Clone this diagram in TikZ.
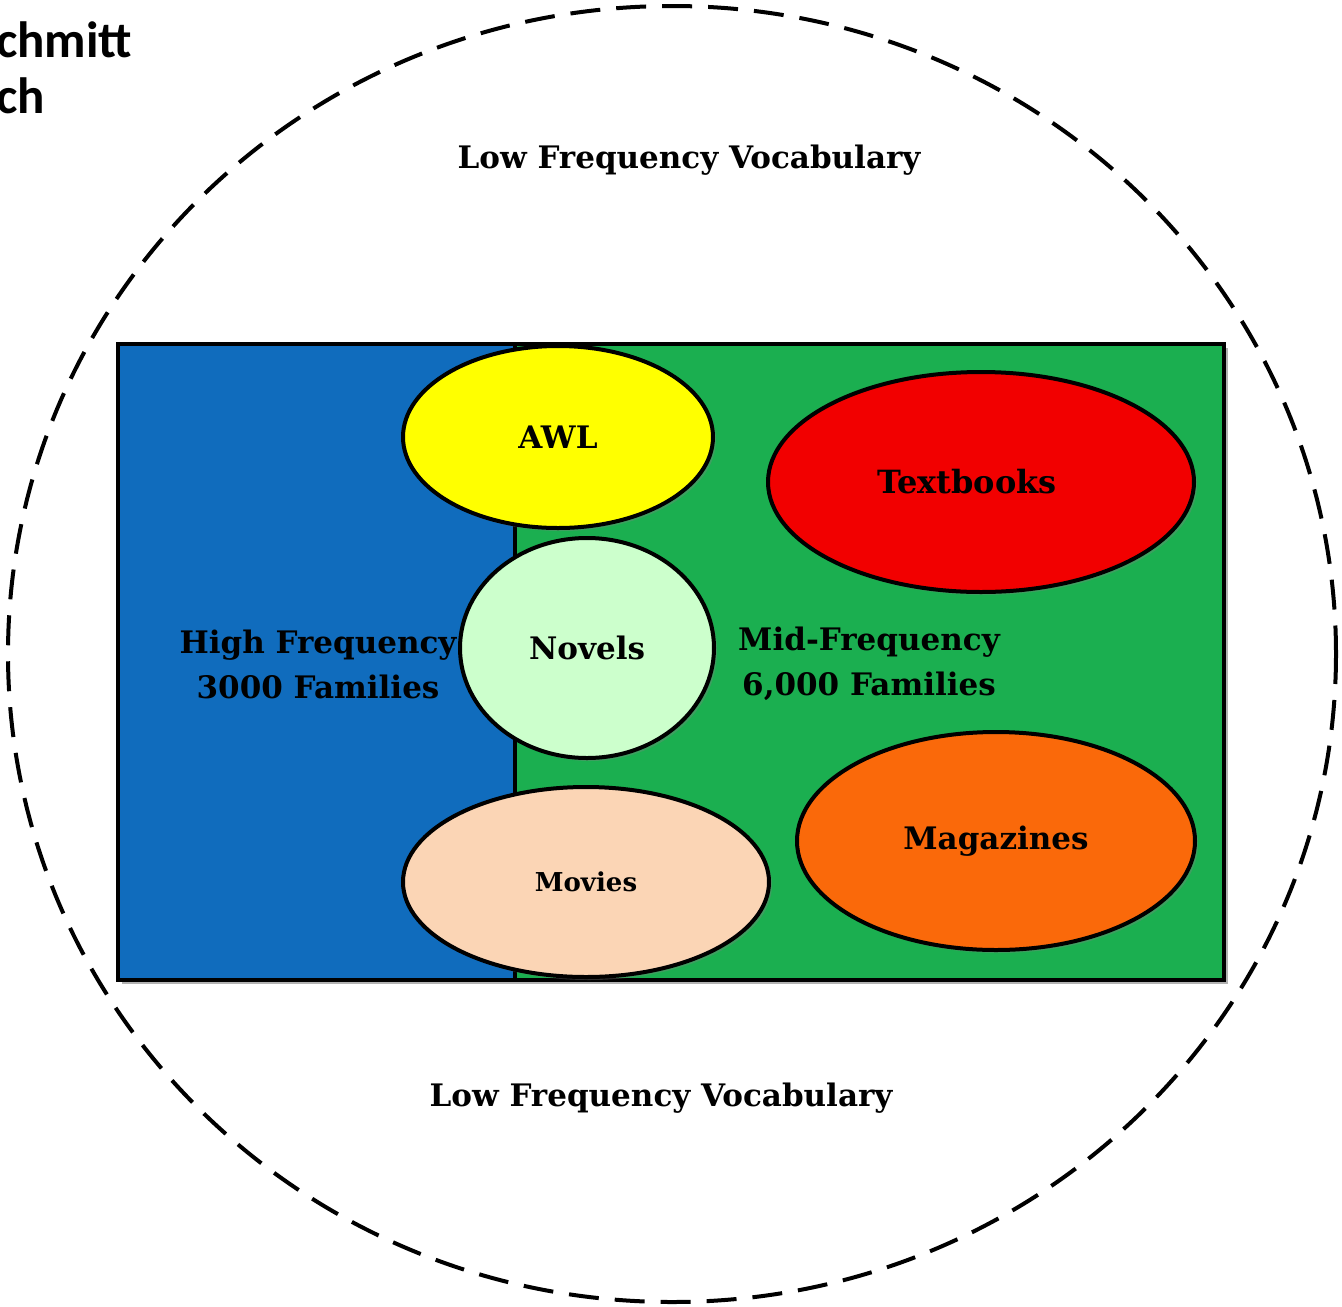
\documentclass[tikz,border=0pt]{standalone}
\usepackage{fontspec}
\newfontfamily\calib{Carlito}
\newfontfamily\lblserif{DejaVu Serif}
\usetikzlibrary{shapes.geometric,shadows}
\definecolor{hfblue}{RGB}{16,108,189}
\definecolor{mfgreen}{RGB}{27,175,80}
\definecolor{awlyellow}{RGB}{255,255,0}
\definecolor{tbred}{RGB}{242,0,0}
\definecolor{novgreen}{RGB}{204,255,204}
\definecolor{movpeach}{RGB}{251,213,181}
\definecolor{magorange}{RGB}{250,105,10}
\tikzset{
  blob/.style={ellipse, draw=black, line width=4pt, inner sep=0pt,
    drop shadow={opacity=0.35, shadow xshift=3pt, shadow yshift=-3pt},
    font=\lblserif\bfseries\fontsize{31}{36}\selectfont, text=black},
  lbl/.style={font=\lblserif\bfseries\fontsize{31}{45}\selectfont, align=center, text=black, inner sep=0pt},
}
\begin{document}
\begin{tikzpicture}[x=1pt,y=-1pt]
\useasboundingbox (0,0) rectangle (1342,1307);
% outer dashed boundary
\draw[line width=4pt, dash pattern=on 30pt off 16pt] (672,654) ellipse [x radius=664, y radius=648];
% top-left clipped text
\node[anchor=base west, inner sep=0pt, font=\calib\bfseries\fontsize{51}{58}\selectfont] (t1) at (-4,57) {chmitt};
\node[anchor=base west, inner sep=0pt, font=\calib\bfseries\fontsize{51}{58}\selectfont] (t2) at (-4,113) {ch};
% main rectangle
\fill[black, opacity=0.3] (122,348) rectangle (1228,984);
\fill[hfblue] (118,344) rectangle (515,980);
\fill[mfgreen] (515,344) rectangle (1224,980);
\draw[line width=4pt] (515,344) -- (515,980);
\draw[line width=4.5pt] (118,344) rectangle (1224,980);
% labels
\node[lbl] (low1) at (689,160) {Low Frequency Vocabulary};
\node[lbl] (low2) at (661,1098) {Low Frequency Vocabulary};
\node[lbl] (hf) at (318,664) {High Frequency\\3000 Families};
\node[lbl] (mf) at (869,664) {Mid-Frequency\\6,000 Families};
% ellipses
\node[blob, fill=awlyellow, minimum width=310pt, minimum height=182pt] (awl) at (558,437) {AWL};
\node[blob, fill=tbred, minimum width=426pt, minimum height=220pt, font=\lblserif\bfseries\fontsize{32}{36}\selectfont] (tb) at (981,482) {\hspace*{-28pt}Textbooks};
\node[blob, fill=novgreen, minimum width=254pt, minimum height=220pt] (nov) at (587,648) {Novels};
\node[blob, fill=movpeach, minimum width=366pt, minimum height=190pt, font=\lblserif\bfseries\fontsize{26}{30}\selectfont] (mov) at (586,882) {Movies};
\node[blob, fill=magorange, minimum width=398pt, minimum height=218pt] (mag) at (996,841) {Magazines};
\end{tikzpicture}
\end{document}
